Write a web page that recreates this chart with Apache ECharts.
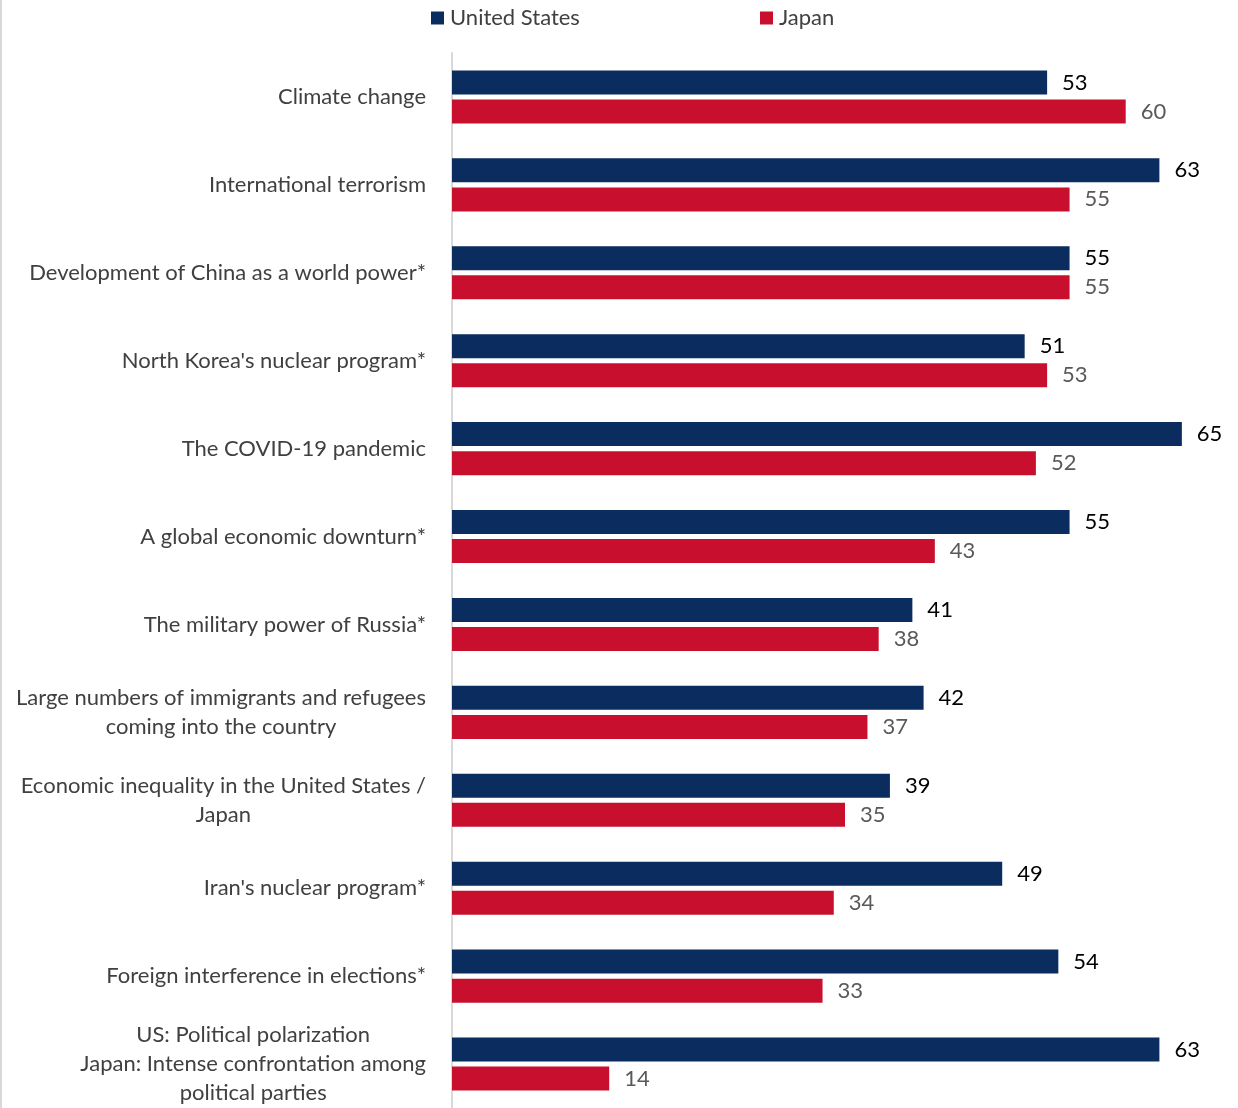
<!DOCTYPE html>
<html>
<head>
<meta charset="utf-8">
<script src="https://cdn.jsdelivr.net/npm/echarts@6/dist/echarts.min.js"></script>
<style>
  html, body { margin: 0; padding: 0; background: #ffffff; }
  #chart { position: absolute; left: 0; top: 0; width: 1238px; height: 1108px; }
  #edge { position: absolute; left: 0; top: 0; width: 2px; height: 1108px; background: #d9d9d9; }
</style>
</head>
<body>
<div id="chart"></div>
<div id="edge"></div>
<script>
// Threats seen as major, share of respondents (%)
const categories = [
  "Climate change",
  "International terrorism",
  "Development of China as a world power*",
  "North Korea's nuclear program*",
  "The COVID-19 pandemic",
  "A global economic downturn*",
  "The military power of Russia*",
  "Large numbers of immigrants and refugees\ncoming into the country",
  "Economic inequality in the United States /\nJapan",
  "Iran's nuclear program*",
  "Foreign interference in elections*",
  "US: Political polarization\nJapan: Intense confrontation among\npolitical parties"
];
const unitedStates = [53, 63, 55, 51, 65, 55, 41, 42, 39, 49, 54, 63];
const japan = [60, 55, 55, 53, 52, 43, 38, 37, 35, 34, 33, 14];
const seriesNames = ["United States", "Japan"];

const FONT = "Lato";
const SIZE = 22;
const chart = echarts.init(document.getElementById("chart"), null, { renderer: "canvas" });

// Multi-line category labels: each line centred inside the right-aligned block
function categoryLabel(value) {
  return value.split("\n").map(function (line) { return "{c|" + line + "}"; }).join("\n");
}

const legendText = { fontFamily: FONT, fontSize: SIZE, color: "#404040", padding: [0, 0, 0, 1] };

chart.setOption({
  animation: false,
  textStyle: { fontFamily: FONT },
  legend: [
    {
      data: [seriesNames[0]],
      left: 431, top: 7, padding: 0,
      icon: "rect", itemWidth: 13, itemHeight: 13,
      textStyle: legendText
    },
    {
      data: [seriesNames[1]],
      left: 760, top: 7, padding: 0,
      icon: "rect", itemWidth: 13, itemHeight: 13,
      textStyle: legendText
    }
  ],
  grid: { left: 452, top: 53, width: 787.5, height: 1056, containLabel: false },
  xAxis: {
    type: "value", min: 0, max: 70,
    show: false
  },
  yAxis: {
    type: "category",
    data: categories,
    inverse: true,
    axisLine: { show: true, lineStyle: { color: "#d9d9d9", width: 2 } },
    axisTick: { show: false },
    splitLine: { show: false },
    axisLabel: {
      margin: 26,
      align: "right",
      color: "#404040",
      fontFamily: FONT,
      fontSize: SIZE,
      lineHeight: 29,
      formatter: categoryLabel,
      rich: { c: { align: "center", fontFamily: FONT, fontSize: SIZE, color: "#404040", lineHeight: 29 } }
    }
  },
  series: [
    {
      name: seriesNames[0], type: "bar", data: unitedStates,
      barWidth: 24, barGap: "21%",
      itemStyle: { color: "#0a2c5e" },
      label: { show: true, position: "right", distance: 15, fontFamily: FONT, fontSize: SIZE, color: "#000000" }
    },
    {
      name: seriesNames[1], type: "bar", data: japan,
      barWidth: 24, barGap: "21%",
      itemStyle: { color: "#c8102e" },
      label: { show: true, position: "right", distance: 15, fontFamily: FONT, fontSize: SIZE, color: "#595959" }
    }
  ]
});
</script>
</body>
</html>
